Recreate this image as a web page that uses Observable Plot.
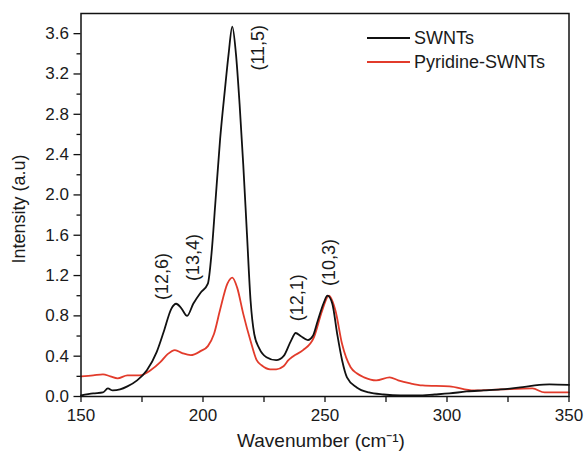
<!DOCTYPE html>
<html>
<head>
<meta charset="utf-8">
<script src="https://cdn.jsdelivr.net/npm/d3@7"></script>
<script src="https://cdn.jsdelivr.net/npm/@observablehq/plot@0.6"></script>
<style>
  html, body { margin: 0; padding: 0; background: #fff; }
  #wrap { position: relative; width: 586px; height: 451px; font-family: "Liberation Sans", Arial, sans-serif; }
  #legend { position: absolute; left: 367px; top: 26px; font-size: 18px; color: #1a1a1a; }
  .row { display: flex; align-items: center; height: 24px; }
  .sw { width: 43px; height: 0; border-top: 2px solid; margin-right: 4px; }
</style>
</head>
<body>
<div id="wrap"><div id="legend"></div></div>
<script>
// ---- data ----
const seriesNames = ["SWNTs", "Pyridine-SWNTs"];
const seriesColors = ["#111111", "#e23b2b"];

const swntX = [150, 155, 159, 161, 163, 166, 169, 173, 177, 181, 184, 187, 189, 191, 193.5, 196, 199, 202, 203.5, 205, 207, 209, 210.5, 212, 213.5, 215, 216.5, 218, 219.5, 221, 223, 226, 230, 233, 236, 238, 240, 243, 245, 247, 249.5, 251, 253, 255, 257, 259, 263, 268, 274, 281, 288, 295, 301, 308, 315, 322, 330, 336, 342, 350];
const swntY = [0.01, 0.03, 0.04, 0.08, 0.06, 0.07, 0.10, 0.16, 0.26, 0.44, 0.65, 0.87, 0.92, 0.88, 0.80, 0.92, 1.03, 1.12, 1.42, 1.90, 2.55, 3.05, 3.40, 3.67, 3.40, 2.90, 2.30, 1.62, 0.95, 0.62, 0.48, 0.39, 0.36, 0.40, 0.55, 0.63, 0.60, 0.56, 0.60, 0.75, 0.93, 1.00, 0.92, 0.62, 0.36, 0.19, 0.09, 0.04, 0.02, 0.01, 0.01, 0.02, 0.03, 0.05, 0.06, 0.07, 0.09, 0.11, 0.12, 0.115];

const pyrX = [150, 155, 159, 162, 165, 169, 174, 178.5, 182.5, 185.5, 188.5, 191.5, 195, 199, 202, 204.5, 207, 210, 212, 214, 216.5, 219.5, 222, 224, 227.5, 230, 233, 235, 237, 241, 245.5, 248.8, 251.6, 254.3, 257, 260.5, 263, 266, 271, 276.5, 280, 285, 290, 301, 311, 322, 335, 340, 350];
const pyrY = [0.20, 0.21, 0.22, 0.20, 0.18, 0.21, 0.21, 0.26, 0.34, 0.42, 0.46, 0.43, 0.41, 0.45, 0.50, 0.62, 0.86, 1.12, 1.18, 1.08, 0.82, 0.55, 0.36, 0.31, 0.27, 0.27, 0.30, 0.36, 0.40, 0.46, 0.59, 0.85, 1.00, 0.85, 0.52, 0.29, 0.23, 0.19, 0.16, 0.19, 0.16, 0.13, 0.11, 0.10, 0.06, 0.07, 0.08, 0.04, 0.04];

const peakLabels = ["(12,6)", "(13,4)", "(11,5)", "(12,1)", "(10,3)"];
const peakX = [183.4, 196.1, 222.7, 238.7, 251.8];
const peakY = [1.19, 1.38, 3.46, 0.98, 1.33];

const xTicks = [150, 200, 250, 300, 350];
const xMinorTicks = [175, 225, 275, 325];
const yTicks = [0, 0.4, 0.8, 1.2, 1.6, 2.0, 2.4, 2.8, 3.2, 3.6];
const yMinorTicks = [0.2, 0.6, 1.0, 1.4, 1.8, 2.2, 2.6, 3.0, 3.4];

const xLabel = "Wavenumber (cm\u207B\u00B9)";
const yLabel = "Intensity (a.u)";

// ---- build ----
const swnt = swntX.map((x, i) => ({x, y: swntY[i]}));
const pyr = pyrX.map((x, i) => ({x, y: pyrY[i]}));
const peaks = peakLabels.map((t, i) => ({t, x: peakX[i], y: peakY[i]}));

const font = "Liberation Sans, Arial, sans-serif";

const chart = Plot.plot({
  width: 586,
  height: 451,
  marginLeft: 80.5,
  marginRight: 17.5,
  marginTop: 13,
  marginBottom: 55,
  style: {fontFamily: font, background: "#fff", color: "#1a1a1a"},
  x: {domain: [150, 350]},
  y: {domain: [0, 3.8]},
  marks: [
    Plot.axisX(xTicks, {tickSize: 6, tickPadding: 6, fontSize: 17, label: null, stroke: "#111", strokeWidth: 1.3}),
    Plot.axisX(xMinorTicks, {tickSize: 6, tickFormat: () => "", label: null, stroke: "#111", strokeWidth: 1.3}),
    Plot.axisY(yTicks, {tickSize: 7, tickPadding: 5, fontSize: 17, tickFormat: d3.format(".1f"), label: null, stroke: "#111", strokeWidth: 1.3}),
    Plot.axisY(yMinorTicks, {tickSize: 4, tickFormat: () => "", label: null, stroke: "#111", strokeWidth: 1.3}),
    Plot.line(pyr, {x: "x", y: "y", stroke: seriesColors[1], strokeWidth: 1.8, curve: "monotone-x"}),
    Plot.line(swnt, {x: "x", y: "y", stroke: seriesColors[0], strokeWidth: 1.8, curve: "monotone-x"}),
    Plot.text(peaks, {x: "x", y: "y", text: "t", rotate: -90, fontSize: 18, fill: "#1a1a1a", textAnchor: "middle", lineAnchor: "middle"}),
    Plot.text([yLabel], {frameAnchor: "left", rotate: -90, dx: -62, dy: 4, fontSize: 18, fill: "#1a1a1a", textAnchor: "middle", lineAnchor: "middle"}),
    Plot.text([xLabel], {frameAnchor: "bottom", dx: -4, dy: 44, fontSize: 19, fill: "#1a1a1a", textAnchor: "middle", lineAnchor: "middle"}),
    Plot.frame({stroke: "#111", strokeWidth: 1.5})
  ]
});

const wrap = document.getElementById("wrap");
wrap.insertBefore(chart, wrap.firstChild);

const legend = document.getElementById("legend");
seriesNames.forEach((name, i) => {
  const row = document.createElement("div");
  row.className = "row";
  const sw = document.createElement("span");
  sw.className = "sw";
  sw.style.borderColor = seriesColors[i];
  const label = document.createElement("span");
  label.textContent = name;
  row.appendChild(sw);
  row.appendChild(label);
  legend.appendChild(row);
});
</script>
</body>
</html>
